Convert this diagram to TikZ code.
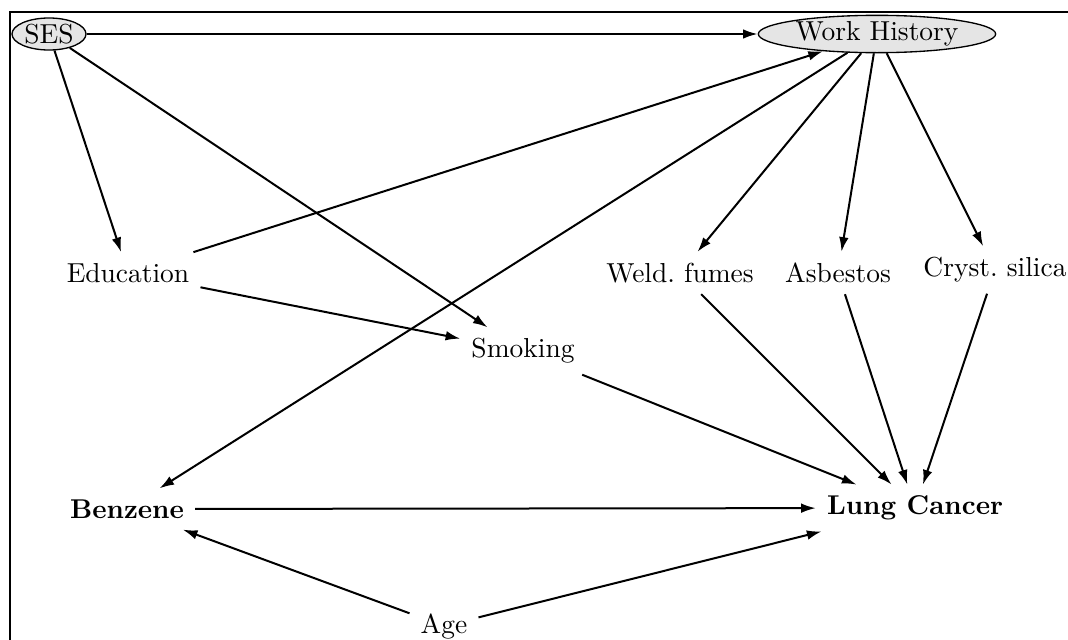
\documentclass[tikz,border=0pt]{standalone}
\usetikzlibrary{shapes.geometric,arrows.meta}
\begin{document}
\begin{tikzpicture}[x={0.375pt},y={-0.375pt},
  every node/.style={font=\fontsize{10.3}{12}\selectfont},
  var/.style={inner sep=4pt},
  bvar/.style={inner sep=4pt,font=\fontsize{10.2}{12}\selectfont\bfseries},
  oval/.style={ellipse,draw,fill=gray!20,line width=0.5pt,inner sep=0pt},
  edge/.style={-{Latex[length=5.5pt,width=3.6pt]},line width=0.75pt}]
\useasboundingbox (0,0) rectangle (1068,639);
\begin{scope}
\clip (0,0) rectangle (1068,639);
\draw[line width=0.8pt] (10,12) rectangle (1100,700);
\node[oval,minimum width=27.75pt,minimum height=12pt] (ses) at (49,34) {SES};
\node[oval,minimum width=89pt,minimum height=14pt] (wh) at (877,34) {Work History};
\node[var] (edu) at (128,273) {Education};
\node[var] (smk) at (523,351) {Smoking};
\node[var] (weld) at (680,273) {Weld.\ fumes};
\node[var] (asb) at (838,273) {Asbestos};
\node[var] (sil) at (995,270) {Cryst.\ silica};
\node[bvar] (benz) at (127,509) {Benzene};
\node[bvar] (lc) at (915,508) {Lung Cancer};
\node[var] (age) at (444,626) {Age};
\draw[edge] (ses) -- (wh);
\draw[edge] (ses) -- (edu);
\draw[edge] (ses) -- (smk);
\draw[edge] (edu) -- (wh);
\draw[edge] (edu) -- (smk);
\draw[edge] (wh) -- (benz);
\draw[edge] (wh) -- (weld);
\draw[edge] (wh) -- (asb);
\draw[edge] (wh) -- (sil);
\draw[edge] (weld) -- (lc);
\draw[edge] (smk) -- (lc);
\draw[edge] (asb) -- (lc);
\draw[edge] (sil) -- (lc);
\draw[edge] (benz) -- (lc);
\draw[edge] (age) -- (benz);
\draw[edge] (age) -- (lc);
\end{scope}
\end{tikzpicture}
\end{document}
